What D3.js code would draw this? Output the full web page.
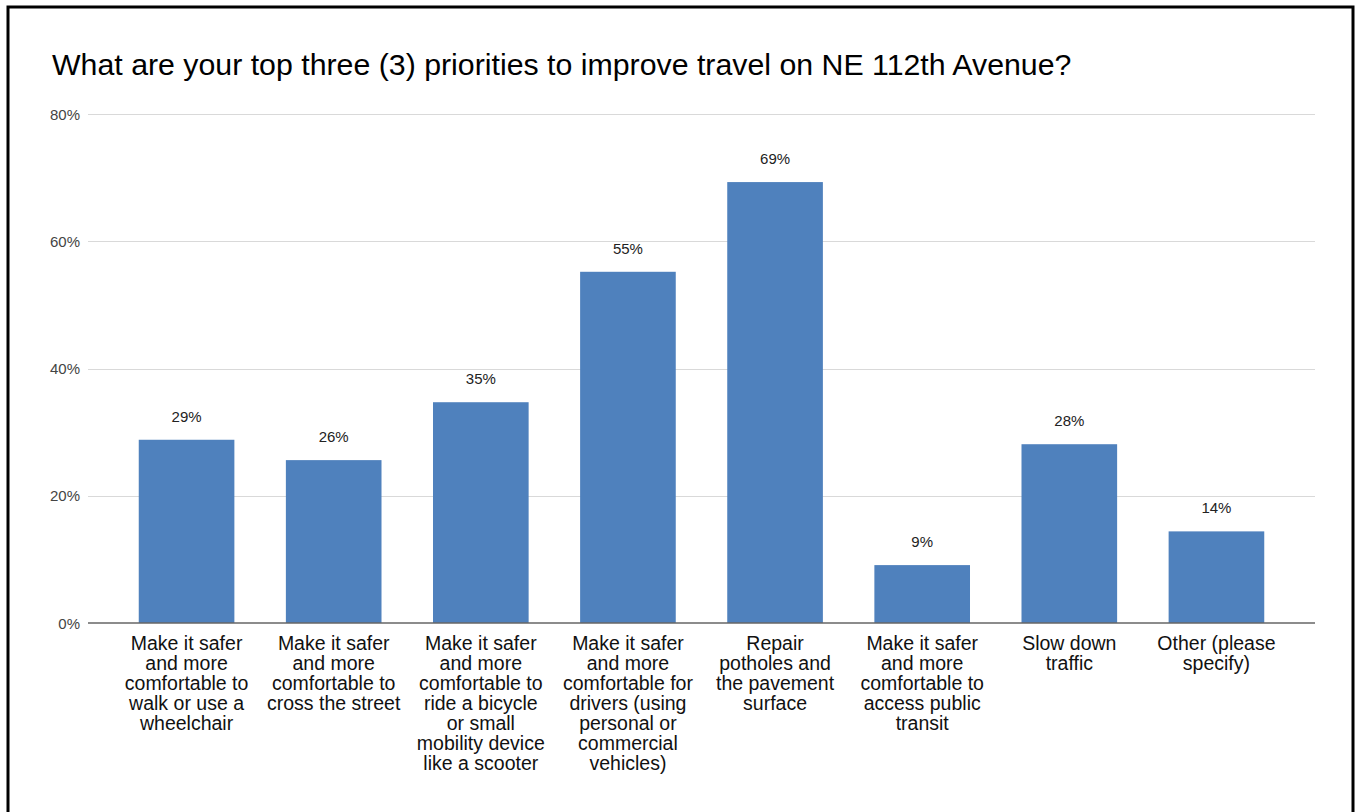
<!DOCTYPE html>
<html>
<head>
<meta charset="utf-8">
<script src="https://cdn.jsdelivr.net/npm/d3@7"></script>
<style>
  body { margin: 0; background: #fff; }
  svg { display: block; font-family: "Liberation Sans", Arial, sans-serif; }
</style>
</head>
<body>
<div id="chart"></div>
<script>
var title = 'What are your top three (3) priorities to improve travel on NE 112th Avenue?';

var categories = [
    'Make it safer and more comfortable to walk or use a wheelchair',
    'Make it safer and more comfortable to cross the street',
    'Make it safer and more comfortable to ride a bicycle or small mobility device like a scooter',
    'Make it safer and more comfortable for drivers (using personal or commercial vehicles)',
    'Repair potholes and the pavement surface',
    'Make it safer and more comfortable to access public transit',
    'Slow down traffic',
    'Other (please specify)'
];

// wrapped tick labels, as they appear under each bar
var tickLines = [
    ['Make it safer', 'and more', 'comfortable to', 'walk or use a', 'wheelchair'],
    ['Make it safer', 'and more', 'comfortable to', 'cross the street'],
    ['Make it safer', 'and more', 'comfortable to', 'ride a bicycle', 'or small', 'mobility device', 'like a scooter'],
    ['Make it safer', 'and more', 'comfortable for', 'drivers (using', 'personal or', 'commercial', 'vehicles)'],
    ['Repair', 'potholes and', 'the pavement', 'surface'],
    ['Make it safer', 'and more', 'comfortable to', 'access public', 'transit'],
    ['Slow down', 'traffic'],
    ['Other (please', 'specify)']
];

var values = [28.8, 25.6, 34.7, 55.2, 69.3, 9.1, 28.1, 14.4];

var yTicks = [0, 20, 40, 60, 80];

var W = 1357, H = 812;
var barColor = '#4f81bd';

var svg = d3.select('#chart').append('svg')
    .attr('width', W)
    .attr('height', H);

// frame
svg.append('rect')
    .attr('x', 8).attr('y', 7)
    .attr('width', 1345).attr('height', 820)
    .attr('fill', 'none')
    .attr('stroke', '#000')
    .attr('stroke-width', 3);

svg.append('text')
    .attr('x', 52).attr('y', 75)
    .attr('font-size', 30.3)
    .attr('fill', '#000')
    .text(title);

var axisLeft = 88, axisRight = 1315;

var y = d3.scaleLinear().domain([0, 80]).range([623, 114]);
var x = d3.scaleBand()
    .domain(d3.range(categories.length))
    .range([113, 1290])
    .paddingInner(0.35)
    .paddingOuter(0.175);

// gridlines + y labels
var grid = svg.append('g');
grid.selectAll('line')
    .data(yTicks.filter(function(d){ return d > 0; }))
    .enter().append('line')
        .attr('x1', axisLeft).attr('x2', axisRight)
        .attr('y1', function(d){ return Math.round(y(d)) + 0.5; })
        .attr('y2', function(d){ return Math.round(y(d)) + 0.5; })
        .attr('stroke', '#d9d9d9')
        .attr('stroke-width', 1);

grid.selectAll('text')
    .data(yTicks)
    .enter().append('text')
        .attr('x', 80)
        .attr('y', function(d){ return y(d) + 5.5; })
        .attr('text-anchor', 'end')
        .attr('font-size', 15)
        .attr('fill', '#444')
        .text(function(d){ return d + '%'; });

// bars
svg.append('g').selectAll('rect')
    .data(values)
    .enter().append('rect')
        .attr('x', function(d, i){ return x(i); })
        .attr('y', function(d){ return y(d); })
        .attr('width', x.bandwidth())
        .attr('height', function(d){ return y(0) - y(d); })
        .attr('fill', barColor);

// value labels
svg.append('g').selectAll('text')
    .data(values)
    .enter().append('text')
        .attr('x', function(d, i){ return x(i) + x.bandwidth() / 2; })
        .attr('y', function(d){ return y(d) - 18; })
        .attr('text-anchor', 'middle')
        .attr('font-size', 15)
        .attr('fill', '#222')
        .text(function(d){ return Math.round(d) + '%'; });

// baseline
svg.append('line')
    .attr('x1', axisLeft).attr('x2', axisRight)
    .attr('y1', y(0)).attr('y2', y(0))
    .attr('stroke', '#666')
    .attr('stroke-width', 1.5);

// category labels
var ticks = svg.append('g').selectAll('text')
    .data(tickLines)
    .enter().append('text')
        .attr('text-anchor', 'middle')
        .attr('font-size', 19.5)
        .attr('fill', '#111');

ticks.selectAll('tspan')
    .data(function(d, i){ return d.map(function(s){ return {s: s, i: i}; }); })
    .enter().append('tspan')
        .attr('x', function(d){ return x(d.i) + x.bandwidth() / 2; })
        .attr('y', function(d, j){ return 650 + j * 20; })
        .text(function(d){ return d.s; });
</script>
</body>
</html>
